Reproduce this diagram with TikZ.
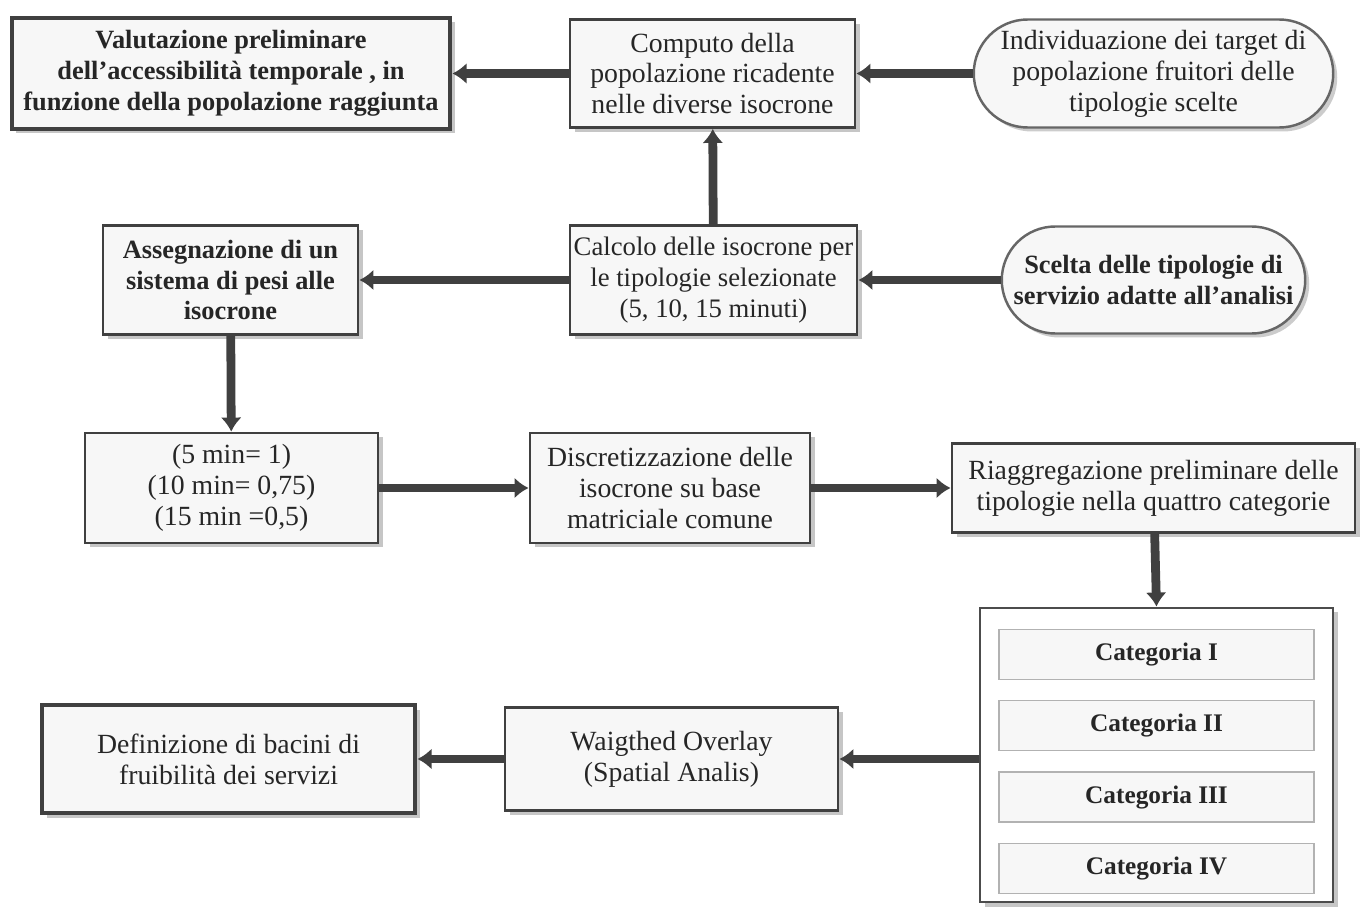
\documentclass[tikz,border=0pt]{standalone}
\usepackage{fontspec}
\setmainfont{Liberation Serif}
\usetikzlibrary{positioning, arrows.meta, shapes.misc, shadows}
\tikzset{
    box_passo/.style={rectangle, draw=black!75, fill=gray!6, line width=1.6pt, align=center, text=black!85, inner sep=1pt, font=\fontsize{15.8}{17.6}\selectfont, drop shadow={shadow xshift=0.09cm, shadow yshift=-0.09cm, fill=gray!45, opacity=1}},
    box_grassetto/.style={box_passo, font=\fontsize{15}{17.6}\selectfont\bfseries},
    box_forte/.style={box_passo, line width=2.8pt},
    box_ovale/.style={rounded rectangle, draw=black!60, fill=gray!6, line width=1.4pt, align=center, text=black!85, inner sep=1pt, font=\fontsize{15.8}{17.6}\selectfont, drop shadow={shadow xshift=0.08cm, shadow yshift=-0.08cm, fill=gray!40, opacity=1}},
    box_contenitore/.style={rectangle, draw=black!70, fill=white, line width=1.6pt, minimum width=7.06cm, minimum height=5.88cm, drop shadow={shadow xshift=0.09cm, shadow yshift=-0.09cm, fill=gray!45, opacity=1}},
    box_categoria/.style={rectangle, draw=gray!60, fill=gray!6, line width=0.8pt, minimum width=6.3cm, minimum height=1cm, text=black!85, font=\fontsize{14.4}{16}\selectfont\bfseries},
    flecha/.style={draw=black!75, line width=5pt, -{Latex[length=8pt, width=12pt]}}
}
\begin{document}
\begin{tikzpicture}
    \useasboundingbox (0,0) rectangle (27.32,18.46);
    % prima riga
    \node[box_forte, font=\fontsize{15}{17.6}\selectfont\bfseries, minimum width=8.76cm, minimum height=2.22cm] (valutazione) at (4.62,16.99) {Valutazione preliminare\\dell’accessibilità temporale , in\\funzione della popolazione raggiunta};
    \node[box_passo, minimum width=5.7cm, minimum height=2.16cm] (computo) at (14.25,16.99) {Computo della\\popolazione ricadente\\nelle diverse isocrone};
    \node[box_ovale, minimum width=7.26cm, minimum height=2.16cm] (target) at (23.07,16.99) {Individuazione dei target di\\popolazione fruitori delle\\tipologie scelte};

    % seconda riga
    \node[box_grassetto, minimum width=5.1cm, minimum height=2.18cm] (assegnazione) at (4.61,12.86) {Assegnazione di un\\sistema di pesi alle\\isocrone};
    \node[box_passo, font=\fontsize{15.2}{17.6}\selectfont, minimum width=5.74cm, minimum height=2.18cm] (calcolo) at (14.27,12.86) {Calcolo delle isocrone per\\le tipologie selezionate\\(5, 10, 15 minuti)};
    \node[box_ovale, font=\fontsize{15}{17.6}\selectfont\bfseries, minimum width=6.14cm, minimum height=2.14cm] (scelta) at (23.07,12.86) {Scelta delle tipologie di\\servizio adatte all’analisi};

    % terza riga
    \node[box_passo, minimum width=5.86cm, minimum height=2.2cm] (pesi) at (4.63,8.70) {(5 min= 1)\\(10 min= 0,75)\\(15 min =0,5)};
    \node[box_passo, minimum width=5.6cm, minimum height=2.2cm] (discretizzazione) at (13.40,8.70) {Discretizzazione delle\\isocrone su base\\matriciale comune};
    \node[box_passo, minimum width=8.06cm, minimum height=1.78cm] (riaggregazione) at (23.07,8.70) {Riaggregazione preliminare delle\\tipologie nella quattro categorie};

    % categorie
    \node[box_contenitore] (categorie) at (23.13,3.36) {};
    \node[box_categoria, below=0.44cm of categorie.north] (cat1) {Categoria I};
    \node[box_categoria, below=0.4cm of cat1] (cat2) {Categoria II};
    \node[box_categoria, below=0.4cm of cat2] (cat3) {Categoria III};
    \node[box_categoria, below=0.4cm of cat3] (cat4) {Categoria IV};

    % ultima riga
    \node[box_passo, minimum width=6.66cm, minimum height=2.06cm] (overlay) at (13.43,3.28) {Waigthed Overlay\\(Spatial Analis)};
    \node[box_forte, minimum width=7.46cm, minimum height=2.16cm] (bacini) at (4.57,3.28) {Definizione di bacini di\\fruibilità dei servizi};

    \draw[flecha] (computo) -- (valutazione);
    \draw[flecha] (target) -- (computo);
    \draw[flecha] (calcolo) -- (computo);
    \draw[flecha] (calcolo) -- (assegnazione);
    \draw[flecha] (scelta) -- (calcolo);
    \draw[flecha] (assegnazione) -- (pesi);
    \draw[flecha] (pesi) -- (discretizzazione);
    \draw[flecha] (discretizzazione) -- (riaggregazione);
    \draw[flecha] (riaggregazione) -- (categorie.north);
    \draw[flecha] (categorie.west |- overlay) -- (overlay);
    \draw[flecha] (overlay) -- (bacini);
\end{tikzpicture}
\end{document}
